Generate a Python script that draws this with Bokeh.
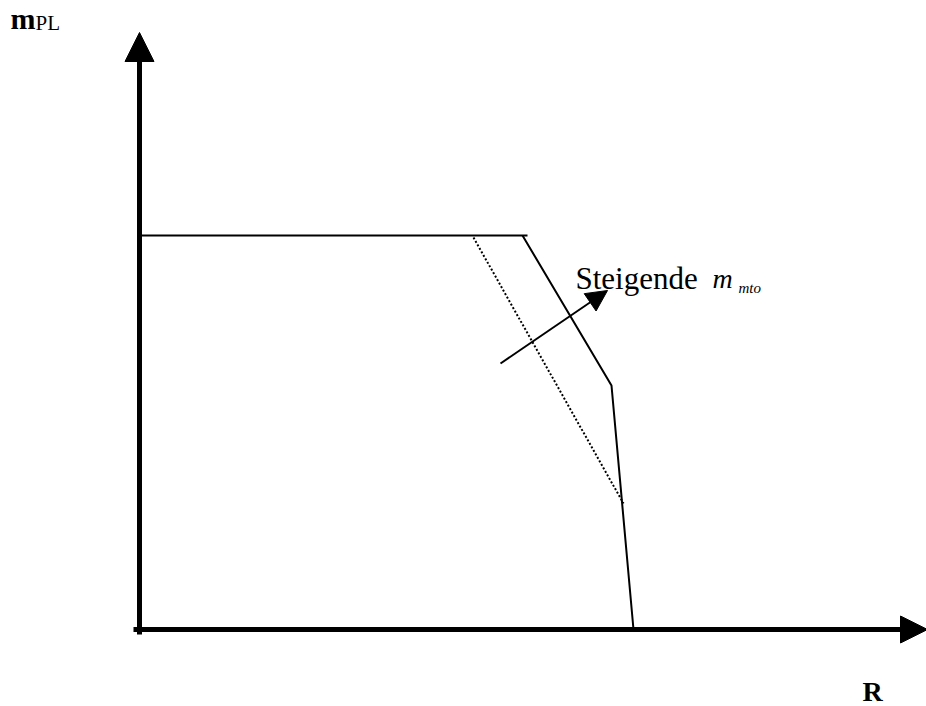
from bokeh.plotting import figure
from bokeh.models import Range1d, Arrow, NormalHead
from bokeh.core.properties import value
from bokeh.embed import file_html
from bokeh.resources import INLINE

# Schematic payload-range diagram (chart units, origin at axis crossing)
# Upper envelope (higher m_mto)
range_plateau = [0.0, 77.6]
payload_plateau = [78.8, 78.8]
range_falloff = [76.6, 94.4, 98.8]
payload_falloff = [78.8, 48.8, 0.0]
# Lower envelope (dotted)
range_low = [66.8, 96.8]
payload_low = [78.4, 25.2]
# "Steigende m_mto" arrow
trend_start = [72.2, 53.2]
trend_end = [93.6, 67.8]
# axes arrows
axis_x_end = 157.6
axis_y_end = 119.4
axis_x_start = -1.2

FONT = value("Liberation Serif")

p = figure(width=926, height=706, output_backend="svg", toolbar_location=None,
           x_range=Range1d(-27.8, 157.4), y_range=Range1d(-15.4, 125.8),
           x_axis_location=None, y_axis_location=None,
           min_border=0, min_border_left=0, min_border_right=0,
           min_border_top=0, min_border_bottom=0)
p.grid.visible = False
p.outline_line_color = None
p.background_fill_color = "white"
p.border_fill_color = "white"

# axes as thick arrows
p.add_layout(Arrow(x_start=axis_x_start, y_start=0, x_end=axis_x_end, y_end=0,
                   line_width=5, line_color="black",
                   end=NormalHead(size=27, fill_color="black", line_color="black", line_width=1)))
p.add_layout(Arrow(x_start=0, y_start=-1.0, x_end=0, y_end=axis_y_end,
                   line_width=5, line_color="black",
                   end=NormalHead(size=29, fill_color="black", line_color="black", line_width=1)))

# envelopes
p.line(range_plateau, payload_plateau, line_color="black", line_width=2)
p.line(range_falloff, payload_falloff, line_color="black", line_width=2)
p.line(range_low, payload_low, line_color="black", line_width=2, line_dash="2 2")

# trend arrow
p.add_layout(Arrow(x_start=trend_start[0], y_start=trend_start[1],
                   x_end=trend_end[0], y_end=trend_end[1],
                   line_width=2, line_color="black",
                   end=NormalHead(size=21, fill_color="black", line_color="black", line_width=1)))

# texts
p.text(x=[87.2], y=[70.2], text=["Steigende"], text_font=FONT, text_font_size="31px",
       text_color="black", text_align="left", text_baseline="alphabetic")
p.text(x=[114.6], y=[70.2], text=["m"], text_font=FONT, text_font_size="28px",
       text_font_style="italic", text_color="black", text_align="left", text_baseline="alphabetic")
p.text(x=[119.8], y=[68.4], text=["mto"], text_font=FONT, text_font_size="15px",
       text_font_style="italic", text_color="black", text_align="left", text_baseline="alphabetic")

p.text(x=[-25.8], y=[122.2], text=["m"], text_font=FONT, text_font_size="30px",
       text_font_style="bold", text_color="black", text_align="left", text_baseline="alphabetic")
p.text(x=[-20.8], y=[121.4], text=["PL"], text_font=FONT, text_font_size="21px",
       text_color="black", text_align="left", text_baseline="alphabetic")

p.text(x=[144.6], y=[-12.4], text=["R"], text_font=FONT, text_font_size="28px",
       text_font_style="bold", text_color="black", text_align="left", text_baseline="alphabetic")

open("out.html", "w").write(file_html(p, INLINE))
